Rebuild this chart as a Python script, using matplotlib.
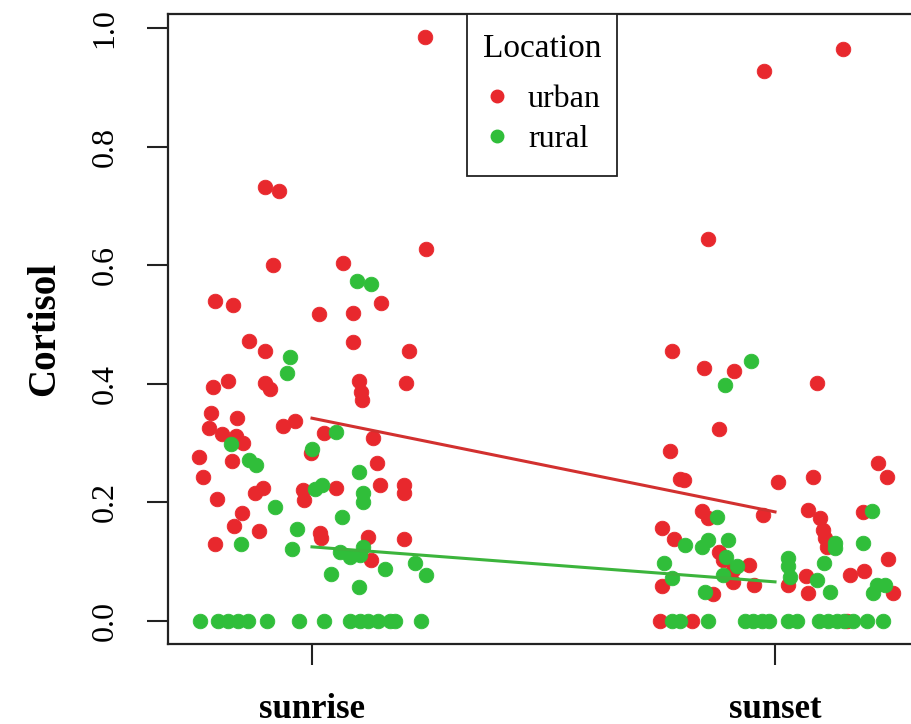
import matplotlib
matplotlib.use('Agg')
import matplotlib.pyplot as plt
from matplotlib.patches import Rectangle

plt.rcParams['font.family'] = ['Liberation Serif', 'DejaVu Serif']

times = ['sunrise', 'sunset']
locations = ['urban', 'rural']
red = '#E8282D'
green = '#30BE3A'

# sunrise, urban (jitter offset from group centre, cortisol)
rise_urban_jit = [0.244, -0.102, -0.071, -0.084, 0.246, 0.068, -0.210, -0.170, 0.016, 0.088, 0.149,
                  -0.135, -0.102, 0.088, 0.210, -0.213, -0.182, -0.102, -0.091, 0.102, 0.106, 0.107, 0.202,
                  -0.219, -0.161, -0.222, -0.195, -0.164, -0.148, -0.062, -0.037, 0.027, 0.132,
                  -0.243, -0.173, -0.002, 0.141, -0.235, -0.123, -0.105, -0.019, -0.017, 0.052, 0.147, 0.199, 0.199,
                  -0.205, -0.152, -0.168, -0.114, -0.210, 0.017, 0.019, 0.122, 0.199, 0.127]
rise_urban_cort = [0.985, 0.732, 0.725, 0.600, 0.627, 0.603, 0.540, 0.533, 0.517, 0.520, 0.537,
                   0.472, 0.456, 0.471, 0.455, 0.394, 0.405, 0.402, 0.392, 0.404, 0.387, 0.373, 0.401,
                   0.351, 0.342, 0.325, 0.315, 0.312, 0.300, 0.328, 0.338, 0.317, 0.308,
                   0.277, 0.269, 0.283, 0.266, 0.242, 0.216, 0.225, 0.221, 0.204, 0.225, 0.229, 0.229, 0.216,
                   0.205, 0.182, 0.160, 0.152, 0.130, 0.148, 0.140, 0.142, 0.138, 0.103]

# sunrise, rural
rise_rural_jit = [0.098, 0.127, -0.048, -0.053, -0.175, 0.052, -0.001, -0.135, -0.121, 0.102, 0.006, 0.021,
                  0.111, 0.111, -0.080, 0.064, -0.032, -0.153, -0.044, 0.060, 0.082, 0.104, 0.111, 0.158,
                  0.040, 0.222, 0.246, 0.102,
                  -0.242, -0.202, -0.181, -0.159, -0.138, -0.098, -0.027, 0.027, 0.082, 0.104, 0.122,
                  0.143, 0.168, 0.179, 0.235]
rise_rural_cort = [0.573, 0.569, 0.445, 0.418, 0.298, 0.319, 0.290, 0.272, 0.263, 0.252, 0.222, 0.229,
                   0.215, 0.201, 0.192, 0.175, 0.155, 0.130, 0.121, 0.117, 0.108, 0.111, 0.125, 0.087,
                   0.079, 0.097, 0.077, 0.057,
                   0, 0, 0, 0, 0, 0, 0, 0, 0, 0, 0, 0, 0, 0, 0]

# sunset, urban
set_urban_jit = [-0.024, 0.146, -0.144, -0.222, -0.153, -0.088, 0.090, -0.122, -0.227, -0.205, -0.197,
                 0.007, 0.081, 0.223, 0.241, -0.027, -0.158, -0.144, 0.072, 0.097, 0.104, 0.108, 0.112,
                 0.190, -0.243, -0.218, -0.122, -0.112, -0.090, -0.056, 0.245, 0.162, 0.192, -0.243,
                 -0.133, -0.090, -0.045, 0.029, 0.068, 0.072, 0.254,
                 -0.248, -0.180, 0.155]
set_urban_cort = [0.927, 0.965, 0.644, 0.455, 0.427, 0.422, 0.401, 0.323, 0.286, 0.239, 0.238,
                  0.235, 0.242, 0.266, 0.242, 0.178, 0.186, 0.173, 0.188, 0.173, 0.153, 0.140, 0.125,
                  0.184, 0.157, 0.138, 0.117, 0.103, 0.086, 0.094, 0.104, 0.078, 0.085, 0.059,
                  0.046, 0.066, 0.061, 0.061, 0.076, 0.047, 0.048,
                  0, 0, 0]

# sunset, rural
set_rural_jit = [-0.052, -0.109, -0.126, 0.209, -0.194, -0.158, -0.144, -0.101, -0.106, -0.083, -0.112,
                 -0.239, -0.223, -0.151, 0.130, 0.130, 0.189, 0.029, 0.029, 0.032, 0.106, 0.090, 0.119,
                 0.220, 0.238, 0.212,
                 -0.223, -0.205, -0.144, -0.065, -0.047, -0.029, -0.014, 0.029, 0.047, 0.094, 0.115,
                 0.133, 0.148, 0.169, 0.198, 0.234]
set_rural_cort = [0.438, 0.398, 0.175, 0.186, 0.128, 0.125, 0.137, 0.137, 0.108, 0.092, 0.078,
                  0.097, 0.072, 0.049, 0.131, 0.123, 0.131, 0.107, 0.092, 0.075, 0.097, 0.069, 0.049,
                  0.061, 0.061, 0.047,
                  0, 0, 0, 0, 0, 0, 0, 0, 0, 0, 0, 0, 0, 0, 0, 0]

# fitted lines (sunrise -> sunset)
urban_fit = [0.342, 0.184]
rural_fit = [0.125, 0.066]

fig = plt.figure(figsize=(9.11, 7.24), dpi=100)
ax = fig.add_axes([168/911, 80/724, 751/911, 630/724])

ms = 10.5
groups = [(1, rise_urban_jit, rise_urban_cort, red), (2, set_urban_jit, set_urban_cort, red),
          (1, rise_rural_jit, rise_rural_cort, green), (2, set_rural_jit, set_rural_cort, green)]
for base, jit, cort, col in groups:
    ax.plot([base + j for j in jit], cort, 'o', color=col, ms=ms, mec=col, mew=0.6, ls='none')

ax.plot([1, 2], urban_fit, color='#D2302F', lw=2.2)
ax.plot([1, 2], rural_fit, color='#3CB43C', lw=2.2)

ax.set_xlim(0.689, 2.311)
ax.set_ylim(-0.0388, 1.0236)
ax.set_xticks([1, 2])
ax.set_xticklabels(times, fontsize=25, fontweight='bold')
ax.set_yticks([0, 0.2, 0.4, 0.6, 0.8, 1.0])
ax.set_yticklabels(['0.0', '0.2', '0.4', '0.6', '0.8', '1.0'], fontsize=23, rotation=90, va='center')
ax.tick_params(axis='both', length=15, width=1.5, color='#222222')
ax.tick_params(axis='y', pad=20)
ax.tick_params(axis='x', pad=20)
for s in ax.spines.values():
    s.set_linewidth(1.6)
    s.set_color('#222222')

fig.text(45/911, 1 - 329/724, 'Cortisol', rotation=90, fontsize=28, fontweight='bold',
         ha='center', va='center')

# legend box drawn by hand (R style)
ax.add_patch(Rectangle((0.3981, 0.7429), 0.1997, 0.2571, transform=ax.transAxes,
                       facecolor='white', edgecolor='#222222', lw=1.3, zorder=5))
ax.text(0.498, 0.9508, 'Location', transform=ax.transAxes, fontsize=24,
        ha='center', va='center_baseline', zorder=6)
for lab, col, yy in zip(locations, [red, green], [0.8700, 0.8065]):
    ax.plot([0.4381], [yy], 'o', color=col, ms=9, transform=ax.transAxes, zorder=6, clip_on=False)
    ax.text(0.4794, yy, lab, transform=ax.transAxes, fontsize=23, ha='left',
            va='center_baseline', zorder=6)

plt.savefig('out.png', dpi=100)
